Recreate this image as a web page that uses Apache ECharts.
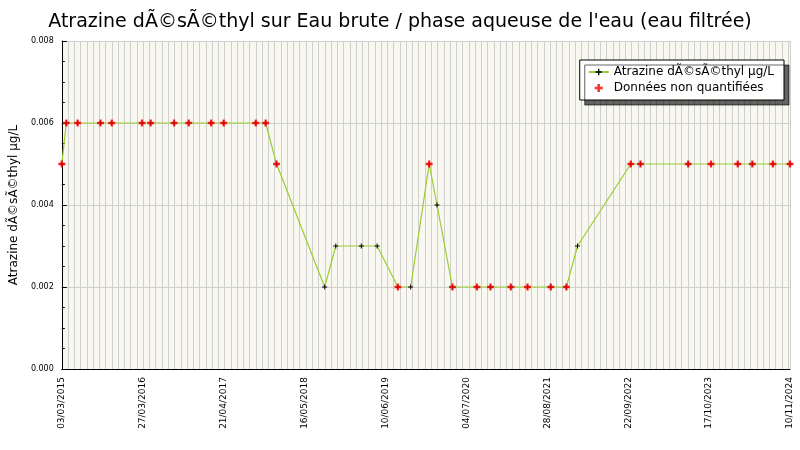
<!DOCTYPE html>
<html>
<head>
<meta charset="utf-8">
<script src="https://cdn.jsdelivr.net/npm/echarts@6/dist/echarts.min.js"></script>
<style>html,body{margin:0;padding:0;background:#fff}#chart{width:800px;height:450px}</style>
</head>
<body>
<div id="chart"></div>
<script>
// Mesures (date, valeur en µg/L, quantifiée ou non)
var dates = ['2015-03-03', '2015-03-25', '2015-05-19', '2015-09-07', '2015-11-01', '2016-03-27', '2016-05-08',
    '2016-08-30', '2016-11-09', '2017-02-26', '2017-04-28', '2017-10-01', '2017-11-18', '2018-01-10',
    '2018-09-01', '2018-10-25', '2019-02-26', '2019-05-14', '2019-08-23', '2019-10-24', '2020-01-22',
    '2020-02-29', '2020-05-14', '2020-09-10', '2020-11-15', '2021-02-22', '2021-05-14', '2021-09-04',
    '2021-11-19', '2022-01-12', '2022-09-28', '2022-11-14', '2023-07-04', '2023-10-23', '2024-03-01',
    '2024-05-11', '2024-08-19', '2024-11-10'];
var values = [0.005, 0.006, 0.006, 0.006, 0.006, 0.006, 0.006, 0.006, 0.006, 0.006, 0.006, 0.006, 0.006, 0.005,
    0.002, 0.003, 0.003, 0.003, 0.002, 0.002, 0.005, 0.004, 0.002, 0.002, 0.002, 0.002, 0.002, 0.002,
    0.002, 0.003, 0.005, 0.005, 0.005, 0.005, 0.005, 0.005, 0.005, 0.005];
var nonQuantified = [1, 1, 1, 1, 1, 1, 1, 1, 1, 1, 1, 1, 1, 1,
    0, 0, 0, 0, 1, 0, 1, 0, 1, 1, 1, 1, 1, 1,
    1, 0, 1, 1, 1, 1, 1, 1, 1, 1];
var tickLabels = ['03/03/2015', '27/03/2016', '21/04/2017', '16/05/2018', '10/06/2019', '04/07/2020',
    '28/08/2021', '22/09/2022', '17/10/2023', '10/11/2024'];
var firstDate = '2015-03-03';
var lastDate = '2024-11-10';
var seriesName = 'Atrazine dÃ©sÃ©thyl µg/L';
var nqName = 'Données non quantifiées';

var DAY = 86400000;
var t = function (s) { return new Date(s + 'T00:00:00Z').getTime(); };
// jours depuis la première date
var dayOf = function (s) { return Math.round((t(s) - t(firstDate)) / DAY); };
var span = dayOf(lastDate);
var step = span / (tickLabels.length - 1);

var lineData = dates.map(function (d, i) { return [dayOf(d), values[i]]; });
var nqData = [];
dates.forEach(function (d, i) { if (nonQuantified[i]) nqData.push([dayOf(d), values[i]]); });

var myChart = echarts.init(document.getElementById('chart'));
var font = 'DejaVu Sans';
myChart.setOption({
    animation: false,
    textStyle: { fontFamily: font },
    title: {
        text: "Atrazine dÃ©sÃ©thyl sur Eau brute / phase aqueuse de l'eau (eau filtrée)",
        left: 'center', top: 8,
        textStyle: { fontSize: 19, fontWeight: 'normal', color: '#000', fontFamily: font }
    },
    legend: {
        right: 16, top: 60, orient: 'vertical', itemGap: 4,
        backgroundColor: '#fff', borderColor: '#000', borderWidth: 1, padding: [6, 10, 6, 8],
        shadowColor: 'rgba(0,0,0,0.6)', shadowOffsetX: 5, shadowOffsetY: 5, shadowBlur: 0,
        itemWidth: 20, itemHeight: 8,
        textStyle: { fontSize: 12, color: '#000', fontFamily: font },
        data: [seriesName, nqName]
    },
    grid: { left: 42, right: 10, top: 41, bottom: 81, show: true, backgroundColor: '#f8f8f0', borderWidth: 0 },
    xAxis: [{
        type: 'value', min: 0, max: span, interval: step,
        axisLine: { lineStyle: { color: '#000' } },
        axisTick: { show: false },
        splitLine: { show: false },
        axisLabel: {
            rotate: 90, fontSize: 9, color: '#000', showMaxLabel: true, showMinLabel: true,
            formatter: function (v) { return tickLabels[Math.round(v / step)] || ''; }
        }
    }, {
        type: 'value', min: 0, max: span, interval: 30.44,
        position: 'bottom', axisLine: { show: false }, axisTick: { show: false }, axisLabel: { show: false },
        splitLine: { show: true, lineStyle: { color: '#cfcfcf', width: 1 } }
    }],
    yAxis: {
        type: 'value', min: 0, max: 0.008, interval: 0.002,
        name: seriesName, nameLocation: 'middle', nameGap: 28,
        nameTextStyle: { fontSize: 12, color: '#000', fontFamily: font },
        axisLine: { show: true, lineStyle: { color: '#000' } },
        axisTick: { show: true, inside: true, length: 5 },
        minorTick: { show: true, splitNumber: 4, length: 3, lineStyle: { color: '#000' } },
        axisLabel: { fontSize: 8, color: '#000', formatter: function (v) { return v.toFixed(3); } },
        splitLine: { show: true, lineStyle: { color: '#cfcfcf' } }
    },
    series: [{
        name: seriesName, type: 'line', data: lineData,
        symbol: 'path://M2,0H3V2H5V3H3V5H2V3H0V2H2Z', symbolSize: 5,
        itemStyle: { color: '#000' },
        lineStyle: { color: '#9acd32', width: 1.2 },
        z: 2
    }, {
        name: nqName, type: 'scatter', data: nqData,
        symbol: 'path://M2,0H4V2H6V4H4V6H2V4H0V2H2Z', symbolSize: 7,
        itemStyle: { color: '#ff0000' },
        z: 3
    }]
});
</script>
</body>
</html>
